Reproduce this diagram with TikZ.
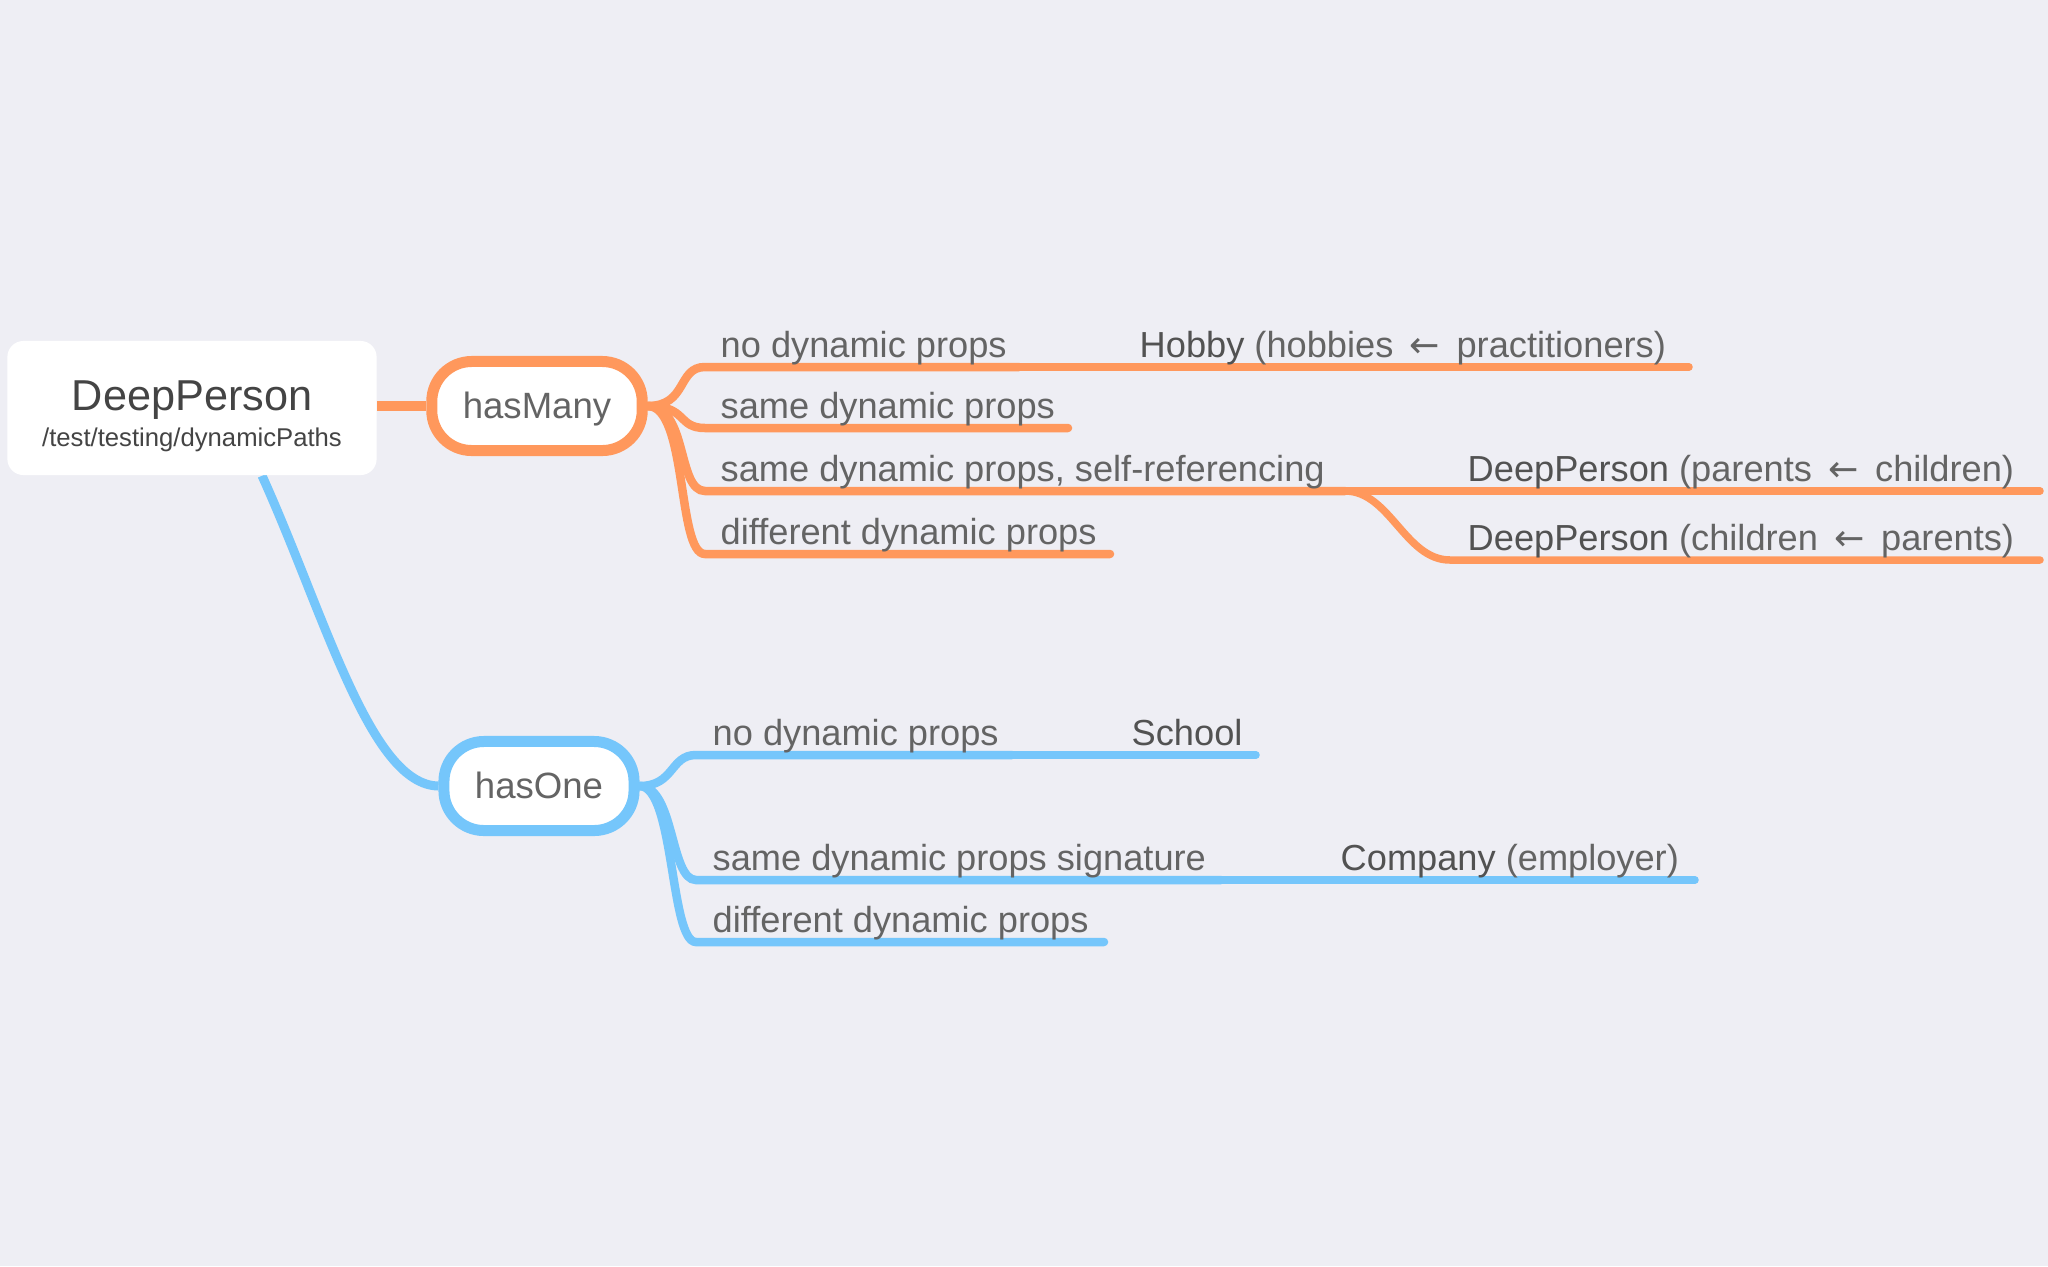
\documentclass[tikz,border=0pt]{standalone}
\usepackage{fontspec}
\setmainfont{Liberation Sans}
\newfontfamily\arrowfont{DejaVu Sans}
\usepackage{tikz}
\usetikzlibrary{positioning}

\definecolor{bgcol}{RGB}{238,238,244}
\definecolor{orangeline}{RGB}{255,152,92}
\definecolor{blueline}{RGB}{117,198,251}
\definecolor{txtgray}{RGB}{100,100,100}
\definecolor{keygray}{RGB}{82,82,82}
\definecolor{rootgray}{RGB}{68,68,68}

\newcommand{\larr}{\hspace{1.8pt}{\arrowfont\fontsize{10.3}{12}\selectfont ←}\hspace{1.8pt}}

\pgfdeclarelayer{back}
\pgfsetlayers{back,main}

\begin{document}
\begin{tikzpicture}[x=0.01cm, y=-0.01cm,
    every node/.style={inner sep=0pt},
    lbl/.style={anchor=base west, font=\fontsize{10.3}{12}\selectfont, text=txtgray},
    rootbox/.style={fill=white, rounded corners=0.16cm, minimum width=3.69cm, minimum height=1.34cm},
    kind/.style={draw=#1, fill=white, line width=0.11cm, rounded corners=0.4cm,
        inner xsep=0.31cm, minimum height=0.89cm, text height=8.6pt, text depth=1.6pt,
        font=\fontsize{10.4}{12}\selectfont, text=txtgray},
    branch/.style={draw=#1, line width=0.085cm, line cap=round},
    leaf/.style={draw=#1, line width=0.075cm, line cap=round}]

% root and the two relations
\node[rootbox] (root) at (192,408) {};
\node[anchor=base, font=\fontsize{12.3}{14}\selectfont, text=rootgray] (title) at (192,410) {DeepPerson};
\node[anchor=base, font=\fontsize{7.3}{9}\selectfont, text=rootgray] (path) at (192,446) {/test/testing/dynamicPaths};

\node[kind=orangeline] (hasMany) at (537,406) {hasMany};
\node[kind=blueline] (hasOne) at (539,786) {hasOne};

% hasMany cases
\coordinate (m1s) at (705,367);  \coordinate (m1e) at (1019,367);
\coordinate (m2s) at (705,428);  \coordinate (m2e) at (1068,428);
\coordinate (m3s) at (705,491);  \coordinate (m3e) at (1345,491);
\coordinate (m4s) at (705,554);  \coordinate (m4e) at (1110,554);
\coordinate (hobbyE) at (1689,367);
\coordinate (dp1e) at (2040,491);
\coordinate (dp2s) at (1450,560); \coordinate (dp2e) at (2040,560);

\node[lbl] (m1) at (720,357) {no dynamic props};
\node[lbl] (m2) at (720,418) {same dynamic props};
\node[lbl] (m3) at (720,481) {same dynamic props, self-referencing};
\node[lbl] (m4) at (720,544) {different dynamic props};
\node[lbl] (hobby) at (1139,357) {{\color{keygray}Hobby} (hobbies \larr{} practitioners)};
\node[lbl] (dp1) at (1467,481) {{\color{keygray}DeepPerson} (parents \larr{} children)};
\node[lbl] (dp2) at (1467,550) {{\color{keygray}DeepPerson} (children \larr{} parents)};

% hasOne cases
\coordinate (o1s) at (696,755);  \coordinate (o1e) at (1012,755);
\coordinate (o2s) at (696,880);  \coordinate (o2e) at (1221,880);
\coordinate (o3s) at (696,942);  \coordinate (o3e) at (1104,942);
\coordinate (schoolE) at (1256,755);
\coordinate (companyE) at (1695,880);

\node[lbl] (o1) at (712,745) {no dynamic props};
\node[lbl] (o2) at (712,870) {same dynamic props signature};
\node[lbl] (o3) at (712,932) {different dynamic props};
\node[lbl] (school) at (1131,745) {{\color{keygray}School}};
\node[lbl] (company) at (1340,870) {{\color{keygray}Company} (employer)};

\begin{pgfonlayer}{back}
\fill[bgcol] (0,0) rectangle (2048,1266);

% root to relations
\draw[orangeline, line width=0.1cm] (root.east |- hasMany.west) -- (hasMany.west);
\draw[blueline, line width=0.09cm] ([xshift=0.7cm]root.south) .. controls (325,615) and (370,785) .. (hasOne.west);

% orange branches
\draw[branch=orangeline] (hasMany.east) .. controls +(40,0) and +(-28,0) .. (m1s) -- (m1e);
\draw[branch=orangeline] (hasMany.east) .. controls +(40,0) and +(-28,0) .. (m2s) -- (m2e);
\draw[branch=orangeline] (hasMany.east) .. controls +(40,0) and +(-28,0) .. (m3s) -- (m3e);
\draw[branch=orangeline] (hasMany.east) .. controls +(40,0) and +(-28,0) .. (m4s) -- (m4e);
\draw[leaf=orangeline] (m1e) -- (hobbyE);
\draw[leaf=orangeline] (m3e) -- (dp1e);
\draw[leaf=orangeline] (m3e) .. controls +(45,0) and +(-45,0) .. (dp2s) -- (dp2e);

% blue branches
\draw[branch=blueline] (hasOne.east) .. controls +(35,0) and +(-26,0) .. (o1s) -- (o1e);
\draw[branch=blueline] (hasOne.east) .. controls +(35,0) and +(-26,0) .. (o2s) -- (o2e);
\draw[branch=blueline] (hasOne.east) .. controls +(35,0) and +(-26,0) .. (o3s) -- (o3e);
\draw[leaf=blueline] (o1e) -- (schoolE);
\draw[leaf=blueline] (o2e) -- (companyE);
\end{pgfonlayer}

\end{tikzpicture}
\end{document}
